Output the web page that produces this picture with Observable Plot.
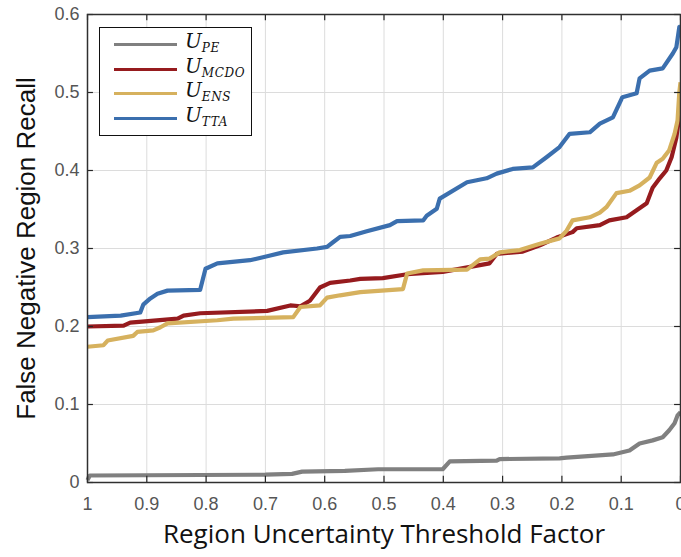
<!DOCTYPE html>
<html>
<head>
<meta charset="utf-8">
<script src="https://cdn.jsdelivr.net/npm/d3@7"></script>
<script src="https://cdn.jsdelivr.net/npm/@observablehq/plot@0.6"></script>
<style>
  html, body { margin: 0; padding: 0; background: #fff; }
  #wrap { position: relative; width: 681px; height: 557px; overflow: hidden; }
  #legend {
    position: absolute; left: 99px; top: 27px; width: 153px; height: 109px;
    border: 1.5px solid #111; background: #fff; box-sizing: border-box;
  }
  .row { position: absolute; left: 0; height: 24px; width: 100%; }
  .sw { position: absolute; left: 14px; width: 63px; height: 3px; top: 11px; }
  .lab { position: absolute; left: 85px; top: -3px; font-family: "DejaVu Serif", serif; font-style: italic; font-size: 20px; color: #111; white-space: nowrap; }
  .lab sub { font-size: 12px; vertical-align: -4px; letter-spacing: 0.6px; }
</style>
</head>
<body>
<div id="wrap"></div>
<script>
// ----- data -----
const xTicks = [1, 0.9, 0.8, 0.7, 0.6, 0.5, 0.4, 0.3, 0.2, 0.1, 0];
const yTicks = [0, 0.1, 0.2, 0.3, 0.4, 0.5, 0.6];
const seriesNames = ["U_PE", "U_MCDO", "U_ENS", "U_TTA"];
const seriesColors = ["#808080", "#961b1e", "#d6b15e", "#3b6fae"];

const peX = [1.0, 0.996, 0.700, 0.655, 0.638, 0.566, 0.510, 0.401, 0.389, 0.310, 0.305, 0.204, 0.192, 0.114, 0.086, 0.069, 0.047, 0.030, 0.019, 0.010, 0.005, 0.0];
const peY = [0.003, 0.009, 0.010, 0.011, 0.014, 0.015, 0.017, 0.017, 0.027, 0.028, 0.030, 0.031, 0.032, 0.036, 0.041, 0.050, 0.054, 0.058, 0.067, 0.076, 0.086, 0.090];

const mcdoX = [1.0, 0.939, 0.928, 0.848, 0.838, 0.810, 0.697, 0.658, 0.641, 0.625, 0.608, 0.591, 0.557, 0.540, 0.502, 0.461, 0.401, 0.350, 0.322, 0.310, 0.266, 0.237, 0.209, 0.182, 0.175, 0.136, 0.120, 0.091, 0.074, 0.057, 0.047, 0.035, 0.024, 0.015, 0.007, 0.002, 0.0];
const mcdoY = [0.200, 0.201, 0.205, 0.210, 0.214, 0.217, 0.220, 0.227, 0.226, 0.233, 0.250, 0.256, 0.259, 0.261, 0.262, 0.267, 0.270, 0.277, 0.281, 0.293, 0.296, 0.304, 0.314, 0.321, 0.326, 0.330, 0.336, 0.340, 0.349, 0.358, 0.378, 0.390, 0.400, 0.417, 0.442, 0.470, 0.480];

const ensX = [1.0, 0.973, 0.966, 0.923, 0.916, 0.889, 0.877, 0.865, 0.781, 0.754, 0.653, 0.641, 0.608, 0.596, 0.574, 0.540, 0.468, 0.461, 0.434, 0.360, 0.338, 0.322, 0.305, 0.271, 0.237, 0.204, 0.192, 0.182, 0.153, 0.136, 0.125, 0.108, 0.086, 0.069, 0.052, 0.040, 0.030, 0.019, 0.010, 0.005, 0.002, 0.0];
const ensY = [0.174, 0.176, 0.182, 0.188, 0.193, 0.195, 0.199, 0.204, 0.208, 0.210, 0.212, 0.225, 0.227, 0.237, 0.240, 0.244, 0.248, 0.268, 0.272, 0.273, 0.286, 0.287, 0.295, 0.298, 0.306, 0.313, 0.323, 0.336, 0.340, 0.346, 0.353, 0.371, 0.374, 0.381, 0.391, 0.410, 0.415, 0.426, 0.447, 0.464, 0.500, 0.513];

const ttaX = [1.0, 0.944, 0.911, 0.906, 0.894, 0.882, 0.865, 0.810, 0.801, 0.781, 0.726, 0.697, 0.670, 0.613, 0.596, 0.586, 0.574, 0.557, 0.529, 0.490, 0.478, 0.434, 0.428, 0.411, 0.406, 0.360, 0.327, 0.310, 0.283, 0.249, 0.226, 0.204, 0.187, 0.153, 0.136, 0.114, 0.098, 0.074, 0.069, 0.052, 0.030, 0.013, 0.007, 0.002, 0.0];
const ttaY = [0.212, 0.214, 0.218, 0.228, 0.236, 0.242, 0.246, 0.247, 0.274, 0.281, 0.285, 0.290, 0.295, 0.300, 0.302, 0.308, 0.315, 0.316, 0.322, 0.330, 0.335, 0.336, 0.342, 0.351, 0.364, 0.385, 0.390, 0.396, 0.402, 0.404, 0.417, 0.430, 0.447, 0.449, 0.460, 0.468, 0.494, 0.499, 0.518, 0.528, 0.531, 0.550, 0.558, 0.584, 0.585];

const legendSubs = ["PE", "MCDO", "ENS", "TTA"];
// -----------------------------------------

const toRows = (xs, ys, s) => xs.map((x, i) => ({x, y: ys[i], s}));
const series = [
  toRows(peX, peY, seriesNames[0]),
  toRows(mcdoX, mcdoY, seriesNames[1]),
  toRows(ensX, ensY, seriesNames[2]),
  toRows(ttaX, ttaY, seriesNames[3])
];

const chart = Plot.plot({
  width: 681,
  height: 557,
  marginLeft: 87,
  marginRight: 1,
  marginTop: 14,
  marginBottom: 75,
  style: { fontFamily: "'Liberation Sans', Arial, sans-serif", background: "#fff" },
  x: { domain: [1, 0], ticks: xTicks },
  y: { domain: [0, 0.6], ticks: yTicks },
  marks: [
    Plot.gridX(xTicks, { stroke: "#dcdcdc", strokeOpacity: 1, strokeWidth: 1 }),
    Plot.gridY(yTicks, { stroke: "#dcdcdc", strokeOpacity: 1, strokeWidth: 1 }),
    ...series.map((rows, i) => Plot.line(rows, {
      x: "x", y: "y", stroke: seriesColors[i], strokeWidth: 4.2,
      strokeLinejoin: "round", strokeLinecap: "butt"
    })),
    // inward tick marks (MATLAB style)
    Plot.ruleX(xTicks, { x: d => d, y1: 0, y2: 0.008, stroke: "#262626", strokeWidth: 1.2 }),
    Plot.ruleX(xTicks, { x: d => d, y1: 0.6, y2: 0.592, stroke: "#262626", strokeWidth: 1.2 }),
    Plot.ruleY(yTicks, { y: d => d, x1: 1, x2: 0.99, stroke: "#262626", strokeWidth: 1.2 }),
    Plot.ruleY(yTicks, { y: d => d, x1: 0, x2: 0.01, stroke: "#262626", strokeWidth: 1.2 }),
    Plot.frame({ stroke: "#303030", strokeWidth: 1.5 }),
    Plot.axisX(xTicks, {
      anchor: "bottom", tickSize: 0, tickPadding: 15, fontSize: 18, fill: "#555",
      tickFormat: d => String(d), label: null
    }),
    Plot.axisY(yTicks, {
      anchor: "left", tickSize: 0, tickPadding: 8, fontSize: 18, fill: "#555",
      tickFormat: d => String(d), label: null
    }),
    Plot.text(["False Negative Region Recall"], {
      frameAnchor: "left", textAnchor: "middle", rotate: -90, dx: -61, text: d => d,
      fontSize: 26, fill: "#111", fontFamily: "'Liberation Sans', Arial, sans-serif"
    }),
    Plot.text(["Region Uncertainty Threshold Factor"], {
      frameAnchor: "bottom", dy: 60, text: d => d,
      fontSize: 26, fill: "#111", fontFamily: "'Open Sans', sans-serif"
    })
  ]
});

const wrap = document.getElementById("wrap");
wrap.appendChild(chart);

const legend = document.createElement("div");
legend.id = "legend";
legendSubs.forEach((sub, i) => {
  const row = document.createElement("div");
  row.className = "row";
  row.style.top = (4 + i * 24.7) + "px";
  const sw = document.createElement("div");
  sw.className = "sw";
  sw.style.background = seriesColors[i];
  const lab = document.createElement("div");
  lab.className = "lab";
  lab.innerHTML = "U<sub>" + sub + "</sub>";
  row.appendChild(sw);
  row.appendChild(lab);
  legend.appendChild(row);
});
wrap.appendChild(legend);
</script>
</body>
</html>
